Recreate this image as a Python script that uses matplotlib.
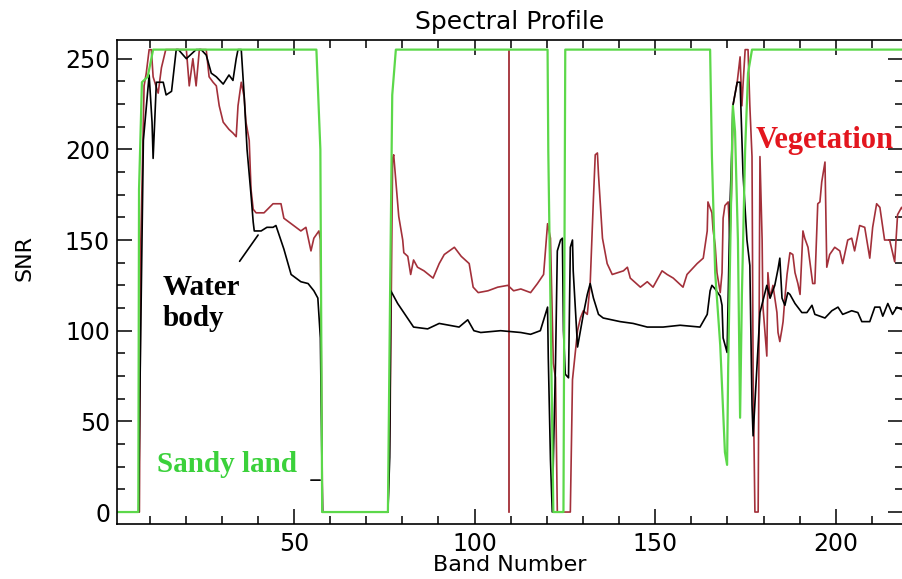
import numpy as np
import matplotlib.pyplot as plt
from matplotlib.ticker import MultipleLocator

# band number / SNR pairs
sandy_band = [1, 6.9, 7.1, 7.9, 9.5, 11.0, 56.2, 57.3, 57.8, 76.0, 76.6, 77.2, 78.2,
              120.2, 120.4, 121.5, 121.8, 124.6, 125.1, 165.2, 165.7, 166.6, 168.0,
              169.3, 169.9, 170.2, 171.3, 171.5, 172.1, 172.9, 173.5, 174.0, 174.9,
              175.7, 176.8, 219]
sandy_snr = [0, 0, 178, 237, 240, 255, 255, 200, 0, 0, 120, 230, 255,
             255, 199, 45, 0, 0, 255, 255, 196, 132, 92,
             33, 26, 80, 205, 224, 210, 150, 52, 120, 200,
             242, 255, 255]

water_band = [1, 7.0, 7.3, 8.3, 9.9, 10.7, 11.0, 11.9, 13.8, 14.6, 16.1, 17.4, 18.0,
              20.2, 22.9, 24.3, 25.7, 27.1, 28.5, 30.4, 32.0, 33.1, 34.0, 34.5, 35.4,
              36.2, 37.0, 38.1, 38.7, 39.0, 40.9, 42.5, 44.2, 45.0, 47.2, 49.2, 51.9,
              53.9, 55.5, 56.6, 57.3, 57.9, 76.0, 76.5, 76.8, 78.7, 80.4, 83.1, 87.0,
              90.2, 95.7, 98.1, 99.8, 101.7, 107.2, 112.8, 115.5, 118.2, 119.6, 120.2,
              120.4, 121.0, 121.5, 121.8, 122.4, 122.9, 123.8, 124.3, 124.6, 125.1,
              126.0, 126.5, 127.1, 127.3, 128.5, 129.3, 130.1, 131.2, 132.0, 132.9,
              134.3, 135.6, 140.3, 143.9, 147.8, 152.2, 156.9, 162.4, 164.4, 165.2,
              165.7, 166.6, 168.0, 168.5, 168.8, 169.9, 170.2, 170.7, 171.3, 171.5,
              172.7, 173.5, 174.3, 175.4, 176.2, 176.8, 177.1, 178.2, 179.0, 180.9,
              181.8, 183.1, 184.0, 184.5, 185.1, 185.9, 186.7, 187.3, 188.7, 190.6,
              192.0, 193.4, 194.2, 197.0, 198.9, 200.6, 201.9, 204.4, 206.1, 207.2,
              209.4, 210.8, 212.2, 213.0, 214.4, 215.7, 216.9, 219]
water_snr = [0, 0, 60, 205, 241, 215, 195, 237, 237, 230, 232, 255, 255,
             250, 255, 255, 252, 242, 240, 236, 241, 238, 250, 255, 255,
             230, 200, 175, 160, 155, 155, 157, 157, 158, 145, 131, 127,
             126, 122, 118, 96, 0, 0, 30, 122, 115, 110, 102, 101,
             104, 102, 106, 100, 99, 100, 99, 98, 100, 109, 113,
             85, 29, 0, 29, 82, 144, 150, 151, 100, 76,
             74, 146, 150, 133, 91, 100, 109, 120, 126, 118,
             109, 107, 105, 104, 102, 102, 103, 102, 109, 122,
             125, 123, 119, 114, 96, 88, 118, 169, 205, 224,
             237, 237, 187, 150, 136, 59, 42, 82, 110, 125,
             118, 125, 134, 140, 118, 114, 121, 120, 115, 110,
             110, 114, 109, 107, 111, 113, 109, 111, 110, 105,
             105, 113, 113, 108, 115, 109, 113, 111]

veg_band = [1, 7.2, 7.6, 8.5, 9.1, 9.9, 10.5, 11.0, 12.4, 13.3, 14.5, 20.2, 21.0,
            22.0, 22.9, 23.8, 25.7, 26.5, 27.6, 28.5, 29.3, 30.4, 32.0, 33.1, 34.0,
            34.5, 35.4, 36.2, 36.7, 37.6, 38.1, 38.7, 39.5, 41.7, 44.2, 46.4, 47.2,
            49.2, 51.9, 53.3, 54.7, 55.5, 56.9, 57.3, 57.9, 76.0, 76.6, 77.3, 77.6,
            79.0, 80.1, 80.4, 81.5, 82.3, 83.1, 84.2, 86.0, 88.5, 90.2, 91.6, 94.4,
            96.3, 98.5, 99.6, 101.0, 103.7, 106.4, 109.2, 110.8, 112.8, 115.5, 117.4,
            119.1, 120.2, 121.0, 121.8, 122.4, 122.9, 126.5, 127.1, 128.5, 129.3,
            130.1, 131.2, 132.0, 132.9, 133.4, 134.0, 134.3, 135.4, 136.7, 138.1,
            141.2, 142.3, 143.1, 145.9, 147.8, 149.4, 151.9, 153.3, 155.0, 157.7,
            158.8, 161.6, 163.3, 164.4, 164.6, 165.7, 166.0, 166.6, 167.1, 168.0,
            168.5, 168.8, 169.3, 170.2, 170.7, 171.3, 171.5, 172.7, 173.5, 174.0,
            174.3, 174.9, 175.7, 176.2, 176.8, 177.1, 177.6, 178.5, 178.7, 179.0,
            179.6, 179.8, 180.9, 181.2, 181.8, 182.6, 183.7, 184.0, 184.5, 185.1,
            185.4, 185.9, 186.5, 187.3, 188.1, 188.7, 189.5, 190.1, 190.9, 191.4,
            192.3, 193.6, 194.2, 195.0, 195.6, 196.1, 197.0, 197.5, 198.3, 199.7,
            201.1, 201.9, 203.3, 204.4, 205.2, 206.6, 208.0, 209.4, 210.2, 211.3,
            212.2, 213.5, 214.9, 216.3, 217.1, 218.2, 219]
veg_snr = [0, 0, 150, 235, 242, 255, 255, 240, 231, 245, 255, 255, 235,
           250, 235, 255, 255, 240, 237, 235, 224, 215, 211, 209, 207,
           224, 237, 229, 215, 205, 178, 167, 165, 165, 170, 170, 162,
           159, 155, 157, 144, 151, 155, 150, 0, 0, 50, 195, 197,
           163, 150, 143, 141, 131, 139, 135, 133, 129, 137, 142, 146,
           141, 137, 124, 121, 122, 124, 125, 122, 123, 121, 126,
           131, 159, 151, 82, 74, 0, 0, 73, 100, 107,
           111, 109, 126, 173, 197, 198, 186, 151, 137, 131,
           133, 135, 129, 124, 127, 124, 133, 131, 129, 124,
           131, 137, 140, 155, 171, 165, 156, 147, 132, 121,
           132, 162, 169, 171, 150, 187, 224, 237, 251, 224,
           235, 255, 255, 224, 196, 77, 0, 0, 77, 196,
           150, 114, 86, 132, 118, 125, 110, 99, 94, 101,
           105, 118, 131, 143, 142, 132, 126, 120, 155, 151,
           146, 126, 126, 170, 171, 182, 193, 135, 142, 146,
           144, 137, 150, 151, 144, 158, 157, 140, 157, 170,
           168, 150, 150, 138, 164, 168, 165]

cursor_band = 109.4

fig = plt.figure(figsize=(9.03, 5.79), dpi=100)
ax = fig.add_axes([117 / 903, 55 / 579, 786 / 903, 484 / 579])

ax.plot([cursor_band, cursor_band], [0, 255], color="#9b1b24", linewidth=1.2)
ax.plot(veg_band, veg_snr, color="#a3303a", linewidth=1.2)
ax.plot(water_band, water_snr, color="black", linewidth=1.2)
ax.plot(sandy_band, sandy_snr, color="#5cd84a", linewidth=1.6)

ax.set_xlim(1, 218.6)
ax.set_ylim(-6.6, 260.3)

ax.xaxis.set_major_locator(MultipleLocator(50))
ax.xaxis.set_minor_locator(MultipleLocator(10))
ax.yaxis.set_major_locator(MultipleLocator(50))
ax.yaxis.set_minor_locator(MultipleLocator(12.5))
ax.tick_params(which="both", direction="in", top=True, right=True, width=1.1,
               labelsize=17, colors="black")
ax.tick_params(which="major", length=11)
ax.tick_params(which="minor", length=5.5)
ax.tick_params(axis="x", pad=6)
ax.tick_params(axis="y", pad=5)
for side in ["left", "bottom", "top"]:
    ax.spines[side].set_linewidth(1.2)
ax.spines["right"].set_visible(False)

ax.set_title("Spectral Profile", fontsize=18, pad=8)
ax.set_xlabel("Band Number", fontsize=16, labelpad=-1)
ax.set_ylabel("SNR", fontsize=16)
ax.yaxis.set_label_coords(-0.105, 0.55)

serif = "Liberation Serif"
ax.text(177.8, 201, "Vegetation", color="#e3161e", fontsize=22,
        fontweight="bold", family=serif, ha="left", va="baseline")
ax.text(13.7, 131, "Water\nbody", color="black", fontsize=21,
        fontweight="bold", family=serif, ha="left", va="top", linespacing=1.15)
ax.annotate("", xy=(40.5, 154), xytext=(34.5, 137),
            arrowprops=dict(arrowstyle="-", color="black", lw=1.2))
ax.text(12.0, 22, "Sandy land", color="#3bd13b", fontsize=21,
        fontweight="bold", family=serif, ha="left", va="baseline")
ax.annotate("", xy=(58.0, 17.6), xytext=(53.9, 17.6),
            arrowprops=dict(arrowstyle="-", color="black", lw=1.2))

fig.savefig("out.png", dpi=100)
